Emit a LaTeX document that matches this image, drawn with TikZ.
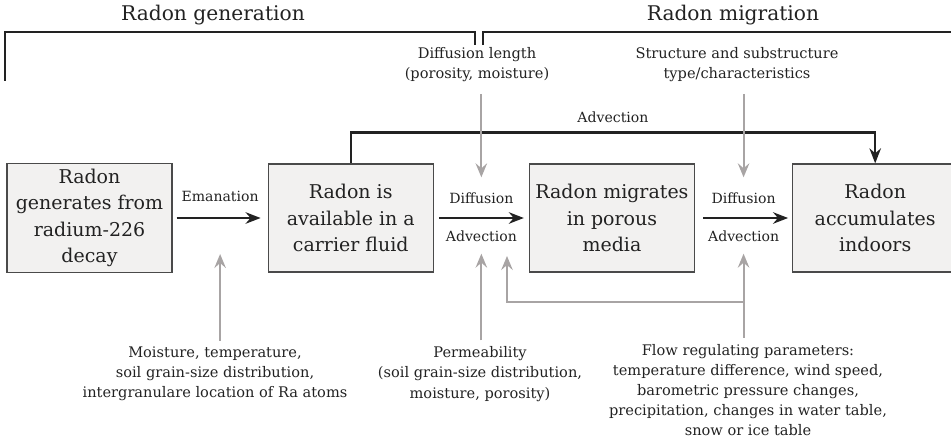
\documentclass[tikz,border=0pt]{standalone}
\usepackage{fontspec}
\setmainfont{DejaVu Serif}
\usetikzlibrary{arrows.meta, positioning}
\definecolor{boxfill}{HTML}{F2F1F0}
\definecolor{boxline}{HTML}{4A4A4A}
\definecolor{infl}{HTML}{A8A4A4}
\definecolor{ink}{HTML}{222222}

\begin{document}
\begin{tikzpicture}[
    color=ink,
    stage/.style={
      draw=boxline,
      fill=boxfill,
      line width=0.7pt,
      align=center,
      minimum width=3.3cm,
      minimum height=2.16cm,
      font=\fontsize{10.8}{15}\selectfont
    },
    flow/.style={-{Stealth[length=3mm, width=2.3mm]}, line width=1.3pt, draw=ink},
    influence/.style={-{Stealth[length=2.8mm, width=2.3mm, inset=1mm]}, line width=1.2pt, draw=infl},
    proc/.style={font=\fontsize{8}{10}\selectfont, inner sep=1pt},
    factor/.style={align=center, font=\fontsize{8.3}{11.5}\selectfont},
    phase/.style={font=\fontsize{11.5}{14}\selectfont},
    bracket/.style={line width=0.7pt, draw=ink}
  ]
  \useasboundingbox (0,0) rectangle (19.02,8.94);

  % group headings
  \node[phase] (gentitle) at (4.26,8.64) {Radon generation};
  \node[phase] (migtitle) at (14.66,8.64) {Radon migration};
  \draw[bracket] (0.10,7.32) |- (9.50,8.30) -- (9.50,8.04);
  \draw[bracket] (9.66,8.04) |- (19.10,8.30);

  % the four stages
  \node[stage] (gen) at (1.79,4.58) {Radon\\generates from\\radium-226\\decay};
  \node[stage, right=1.9cm of gen] (fluid) {Radon is\\available in a\\carrier fluid};
  \node[stage, right=1.9cm of fluid] (porous) {Radon migrates\\in porous\\media};
  \node[stage, right=1.94cm of porous] (indoor) {Radon\\accumulates\\indoors};

  % transport between stages
  \draw[flow, shorten <=0.08cm, shorten >=0.14cm] (gen.east) --
    node[proc, above=0.26cm] (ema) {Emanation}
    coordinate[midway] (emamid) (fluid.west);
  \draw[flow, shorten <=0.1cm, shorten >=0.1cm] (fluid.east) --
    node[proc, above=0.22cm] (dif1) {Diffusion}
    node[proc, below=0.2cm] (adv1) {Advection} (porous.west);
  \draw[flow, shorten <=0.16cm, shorten >=0.08cm] (porous.east) --
    node[proc, above=0.22cm] (dif2) {Diffusion}
    node[proc, below=0.2cm] (adv2) {Advection} (indoor.west);
  \draw[flow] (fluid.north) -- ++(0,0.62) -|
    node[proc, pos=0.25, above=0.14cm] (advtop) {Advection} (indoor.north);

  % influencing factors, top
  \node[factor] (diflen) at (9.54,7.65) {Diffusion length\\(porosity, moisture)};
  \node[factor] (struct) at (14.74,7.65) {Structure and substructure\\type/characteristics};
  \draw[influence, shorten <=0.12cm, shorten >=0.26cm] (dif1 |- diflen.south) -- (dif1.north);
  \draw[influence, shorten <=0.12cm, shorten >=0.26cm] (dif2 |- struct.south) -- (dif2.north);

  % influencing factors, bottom
  \node[factor] (moist) at (4.30,1.46) {Moisture, temperature,\\soil grain-size distribution,\\intergranulare location of Ra atoms};
  \node[factor] (perm) at (9.60,1.46) {Permeability\\(soil grain-size distribution,\\moisture, porosity)};
  \node[factor] (flowpar) at (14.96,1.14) {Flow regulating parameters:\\temperature difference, wind speed,\\barometric pressure changes,\\precipitation, changes in water table,\\snow or ice table};
  \draw[influence, shorten >=0.72cm] (emamid |- moist.north) -- (emamid);
  \draw[influence, shorten >=0.18cm] (adv1 |- perm.north) -- (adv1.south);
  \draw[influence, shorten >=0.18cm] (adv2 |- flowpar.north) -- (adv2.south);
  \coordinate (fork) at (adv2 |- 0,2.90);
  \coordinate (advtip) at (10.14,3.82);
  \draw[influence] (fork) -| (advtip);
\end{tikzpicture}
\end{document}
